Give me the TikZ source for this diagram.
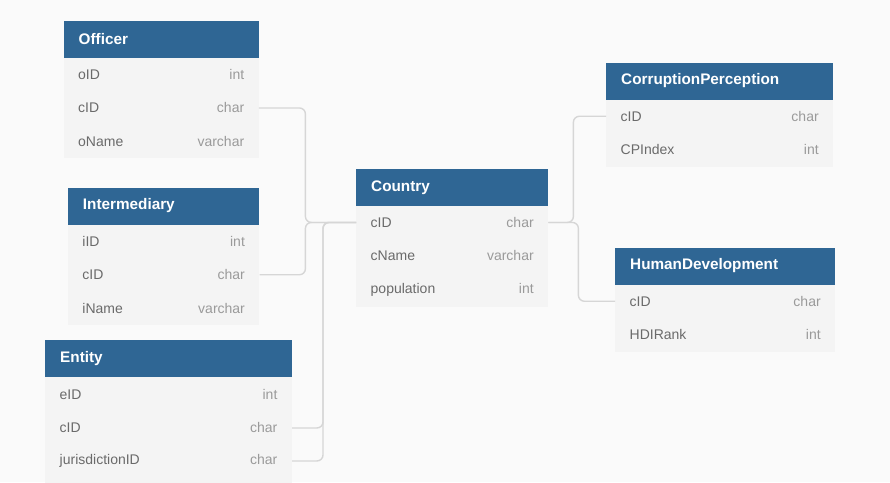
\documentclass[tikz,border=0pt]{standalone}
\usepackage{fontspec}
\setmainfont{Liberation Sans}
\definecolor{bgc}{HTML}{FAFAFA}
\definecolor{hdr}{HTML}{2F6694}
\definecolor{bodyc}{HTML}{F4F4F4}
\definecolor{fieldc}{HTML}{6A6A6A}
\definecolor{typec}{HTML}{9A9A9A}
\definecolor{linec}{HTML}{D6D6D6}
\tikzset{
  hdrbox/.style={fill=hdr, draw=none, anchor=north west, minimum height=37pt,
    inner xsep=15pt, inner ysep=0pt, text=white, align=left,
    font=\fontsize{15.3}{18}\selectfont\bfseries},
  bodybox/.style={fill=bodyc, draw=none, anchor=north west, inner sep=0pt},
  rowbox/.style={anchor=north west, minimum height=33.5pt, inner xsep=14.5pt,
    inner ysep=0pt, align=left, font=\fontsize{14}{16}\selectfont},
  conn/.style={draw=linec, line width=1.4pt, rounded corners=6pt}
}
\newcommand\erow[6]{% name, x, y, textwidth, field, type
  \node[rowbox, text width=#4pt] (#1) at (#2,#3) {\raisebox{-1pt}{\textcolor{fieldc}{#5}}\hfill\raisebox{-1pt}{\textcolor{typec}{#6}}};
}
\newcommand\ertitle[1]{\raisebox{-1.2pt}{#1}}
\begin{document}
\begin{tikzpicture}[x=1pt,y=-1pt]
\fill[bgc] (0,0) rectangle (890,482);
\useasboundingbox (0,0) rectangle (890,482);

% Officer
\node[bodybox, minimum width=195pt, minimum height=100.5pt] (offbody) at (63.5,57.5) {};
\node[hdrbox, text width=165pt] (off) at (63.5,20.5) {\ertitle{Officer}};
\erow{off-1}{63.5}{57.5}{166}{oID}{int}
\erow{off-2}{63.5}{91}{166}{cID}{char}
\erow{off-3}{63.5}{124.5}{166}{oName}{varchar}

% Intermediary
\node[bodybox, minimum width=191.5pt, minimum height=100.5pt] (intbody) at (67.7,224.3) {};
\node[hdrbox, text width=161.5pt] (int) at (67.7,187.3) {\ertitle{Intermediary}};
\erow{int-1}{67.7}{224.3}{162.5}{iID}{int}
\erow{int-2}{67.7}{257.8}{162.5}{cID}{char}
\erow{int-3}{67.7}{291.3}{162.5}{iName}{varchar}

% Entity
\node[bodybox, minimum width=246.7pt, minimum height=106pt] (entbody) at (45,377) {};
\node[hdrbox, text width=216.7pt] (ent) at (45,340) {\ertitle{Entity}};
\erow{ent-1}{45}{378}{217.7}{eID}{int}
\erow{ent-2}{45}{411}{217.7}{cID}{char}
\erow{ent-3}{45}{444}{217.7}{jurisdictionID}{char}

% Country
\node[bodybox, minimum width=192pt, minimum height=100.5pt] (ctybody) at (356,206) {};
\node[hdrbox, text width=162pt] (cty) at (356,169) {\ertitle{Country}};
\erow{cty-1}{356}{205.5}{163}{cID}{char}
\erow{cty-2}{356}{239}{163}{cName}{varchar}
\erow{cty-3}{356}{272.5}{163}{population}{int}

% CorruptionPerception
\node[bodybox, minimum width=227pt, minimum height=67pt] (cpbody) at (606,99.3) {};
\node[hdrbox, text width=197pt] (cp) at (606,62.3) {\ertitle{CorruptionPerception}};
\erow{cp-1}{606}{99.3}{198}{cID}{char}
\erow{cp-2}{606}{132.8}{198}{CPIndex}{int}

% HumanDevelopment
\node[bodybox, minimum width=220pt, minimum height=67pt] (hdbody) at (615,284.3) {};
\node[hdrbox, text width=190pt] (hd) at (615,247.3) {\ertitle{HumanDevelopment}};
\erow{hd-1}{615}{284.3}{191}{cID}{char}
\erow{hd-2}{615}{317.8}{191}{HDIRank}{int}

% connectors
\draw[conn] (off-2.east) -- ++(46.5,0) |- (cty-1.west);
\draw[conn] (int-2.east) -- ++(45.8,0) |- (cty-1.west);
\draw[conn] (cty-1.west) -- ++(-33,0) |- (ent-2.east);
\draw[conn] (cty-1.west) -- ++(-33,0) |- (ent-3.east);
\draw[conn] (cty-1.east) -- ++(25,0) |- (cp-1.west);
\draw[conn] (cty-1.east) -- ++(30,0) |- (hd-1.west);
\end{tikzpicture}
\end{document}
